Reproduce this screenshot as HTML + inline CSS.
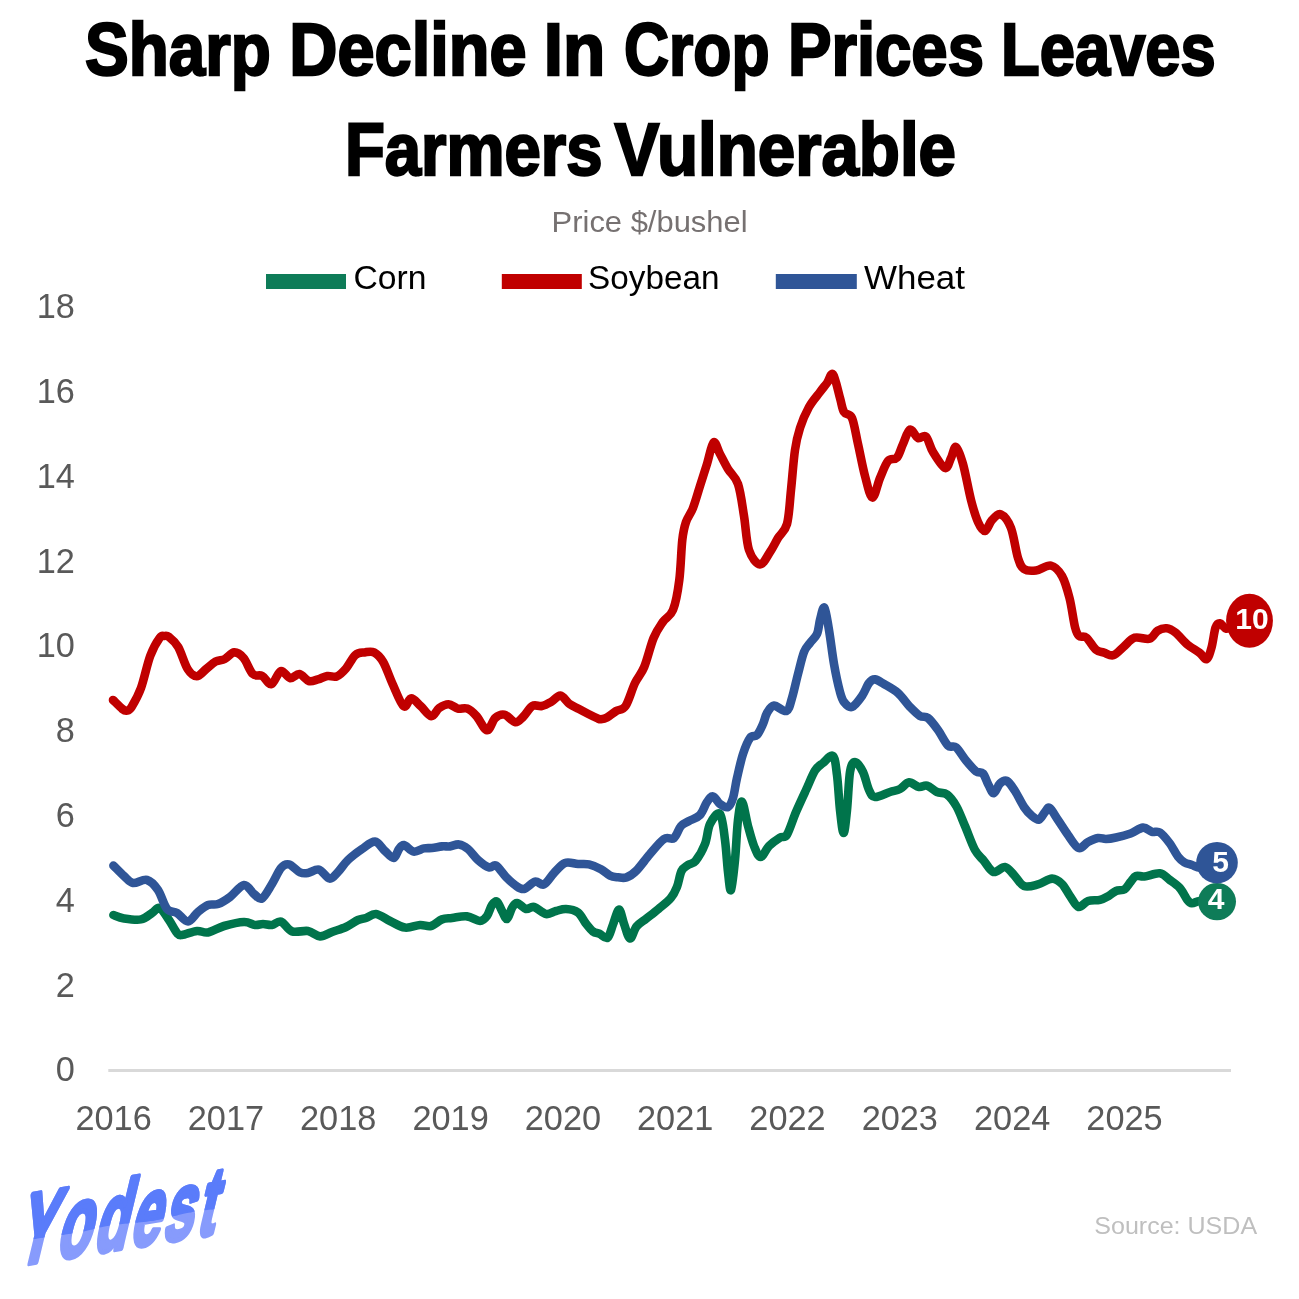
<!DOCTYPE html>
<html lang="en">
<head>
<meta charset="utf-8">
<title>Sharp Decline In Crop Prices Leaves Farmers Vulnerable</title>
<style>
html,body{margin:0;padding:0;background:#fff;}
body{width:1299px;height:1299px;overflow:hidden;font-family:"Liberation Sans",sans-serif;}
svg{display:block;}
text{font-family:"Liberation Sans",sans-serif;}
.title{font-weight:bold;font-size:75px;fill:#000;stroke:#000;stroke-width:2.4px;stroke-linejoin:miter;stroke-miterlimit:2.5;}
.axis text{font-size:34.3px;fill:#595959;}
.legend text{font-size:32.5px;fill:#000;}
.line{fill:none;stroke-width:8.6;stroke-linecap:round;stroke-linejoin:round;}
.badge{font-weight:bold;font-size:30px;fill:#fff;text-anchor:middle;}
</style>
</head>
<body>
<svg width="1299" height="1299" viewBox="0 0 1299 1299">
<rect width="1299" height="1299" fill="#ffffff"/>

<!-- Title -->
<g class="title">
<text transform="translate(84.99,74.5) scale(0.8741,1)">Sharp</text>
<text transform="translate(289.37,74.5) scale(0.8891,1)">Decline</text>
<text transform="translate(543.70,74.5) scale(0.9226,1)">In</text>
<text transform="translate(624.04,74.5) scale(0.8314,1)">Crop</text>
<text transform="translate(787.95,74.5) scale(0.8707,1)">Prices</text>
<text transform="translate(1001.06,74.5) scale(0.8441,1)">Leaves</text>
<text transform="translate(344.94,174.6) scale(0.8701,1)">Farmers</text>
<text transform="translate(614.56,174.6) scale(0.8970,1)">Vulnerable</text>
</g>

<!-- Subtitle -->
<text x="551.6" y="232" font-size="29.5" fill="#767171" textLength="196" lengthAdjust="spacingAndGlyphs">Price $/bushel</text>

<!-- Legend -->
<g class="legend">
<rect x="266" y="274" width="80" height="15" fill="#0e7c58"/>
<text x="353.5" y="288.7" textLength="73" lengthAdjust="spacingAndGlyphs">Corn</text>
<rect x="501.8" y="274" width="80" height="15" fill="#c00000"/>
<text x="588" y="288.7" textLength="131.5" lengthAdjust="spacingAndGlyphs">Soybean</text>
<rect x="775.8" y="274" width="81" height="15" fill="#2f5597"/>
<text x="864" y="288.7" textLength="101" lengthAdjust="spacingAndGlyphs">Wheat</text>
</g>

<!-- Axes -->
<line x1="108.3" y1="1070.4" x2="1231" y2="1070.4" stroke="#d9d9d9" stroke-width="3"/>
<g class="axis">
<text x="74.8" y="1081.3" text-anchor="end">0</text>
<text x="74.8" y="996.6" text-anchor="end">2</text>
<text x="74.8" y="911.8" text-anchor="end">4</text>
<text x="74.8" y="827.0" text-anchor="end">6</text>
<text x="74.8" y="742.1" text-anchor="end">8</text>
<text x="74.8" y="657.4" text-anchor="end">10</text>
<text x="74.8" y="572.6" text-anchor="end">12</text>
<text x="74.8" y="487.8" text-anchor="end">14</text>
<text x="74.8" y="403.0" text-anchor="end">16</text>
<text x="74.8" y="318.2" text-anchor="end">18</text>
<text x="113.6" y="1130" text-anchor="middle">2016</text>
<text x="225.9" y="1130" text-anchor="middle">2017</text>
<text x="338.2" y="1130" text-anchor="middle">2018</text>
<text x="450.6" y="1130" text-anchor="middle">2019</text>
<text x="562.9" y="1130" text-anchor="middle">2020</text>
<text x="675.2" y="1130" text-anchor="middle">2021</text>
<text x="787.5" y="1130" text-anchor="middle">2022</text>
<text x="899.8" y="1130" text-anchor="middle">2023</text>
<text x="1012.2" y="1130" text-anchor="middle">2024</text>
<text x="1124.5" y="1130" text-anchor="middle">2025</text>
</g>

<!-- Series -->
<path class="line" stroke="#00744b" d="M113.4 915.0C115.2 915.6 119.4 917.7 124.0 918.4C128.6 919.1 136.3 920.3 141.0 919.4C145.7 918.5 148.9 914.9 152.0 913.0C155.1 911.1 156.8 906.8 159.6 908.0C162.4 909.2 166.1 915.8 169.0 920.0C171.9 924.2 174.8 930.5 177.0 933.0C179.2 935.5 178.7 935.3 182.0 935.0C185.3 934.7 192.7 931.4 197.0 931.0C201.3 930.6 203.5 933.2 208.0 932.4C212.5 931.6 218.0 927.7 224.0 926.0C230.0 924.3 238.8 922.2 244.0 922.0C249.2 921.8 251.8 924.7 255.0 925.0C258.2 925.3 260.2 924.0 263.0 924.0C265.8 924.0 269.0 925.4 272.0 925.0C275.0 924.6 277.7 920.5 281.0 921.6C284.3 922.7 287.5 929.8 292.0 931.4C296.5 933.0 303.3 930.2 308.0 931.0C312.7 931.8 316.0 936.2 320.0 936.4C324.0 936.6 327.7 933.6 332.0 932.0C336.3 930.4 341.7 929.0 346.0 927.0C350.3 925.0 354.7 921.5 358.0 920.0C361.3 918.5 363.0 919.0 366.0 918.0C369.0 917.0 372.0 913.5 376.0 914.0C380.0 914.5 385.2 918.7 390.0 921.0C394.8 923.3 400.0 926.9 405.0 927.6C410.0 928.3 415.7 925.3 420.0 925.0C424.3 924.7 427.3 926.9 431.0 926.0C434.7 925.1 438.5 920.7 442.0 919.4C445.5 918.1 447.8 918.5 452.0 918.0C456.2 917.5 462.3 915.9 467.0 916.4C471.7 916.9 476.7 921.1 480.0 921.0C483.3 920.9 485.0 918.7 487.0 916.0C489.0 913.3 490.3 907.4 492.0 905.0C493.7 902.6 495.3 900.6 497.0 901.6C498.7 902.6 500.3 908.1 502.0 911.0C503.7 913.9 505.3 919.5 507.0 919.0C508.7 918.5 510.3 910.7 512.0 908.0C513.7 905.3 514.7 902.8 517.0 903.0C519.3 903.2 523.2 908.3 526.0 909.0C528.8 909.7 530.7 906.2 534.0 907.0C537.3 907.8 542.3 913.3 546.0 914.0C549.7 914.7 552.7 911.8 556.0 911.0C559.3 910.2 562.3 908.8 566.0 909.0C569.7 909.2 574.8 910.2 578.0 912.5C581.2 914.8 583.0 919.8 585.5 923.0C588.0 926.2 590.7 929.7 593.0 931.5C595.3 933.3 597.1 932.8 599.5 933.8C601.9 934.8 605.2 939.3 607.5 937.8C609.8 936.2 611.1 929.2 613.0 924.5C614.9 919.8 617.2 909.7 619.0 909.6C620.8 909.5 622.2 918.9 624.0 923.7C625.8 928.5 627.9 938.0 630.0 938.5C632.1 939.0 633.8 929.8 636.5 926.5C639.2 923.2 642.3 921.7 646.0 918.8C649.7 915.9 654.4 912.5 658.5 909.0C662.6 905.5 667.7 901.7 670.8 898.0C673.9 894.3 675.2 891.3 677.0 886.8C678.8 882.3 679.7 874.6 681.5 871.0C683.3 867.4 685.7 866.7 688.0 865.0C690.3 863.3 692.7 864.5 695.5 861.0C698.3 857.5 702.6 850.2 705.0 844.0C707.4 837.8 707.5 829.0 710.0 824.0C712.5 819.0 717.5 811.3 720.0 814.0C722.5 816.7 723.7 830.3 725.0 840.0C726.3 849.7 727.0 863.7 728.0 872.0C729.0 880.3 729.8 892.0 731.0 890.0C732.2 888.0 733.8 871.7 735.0 860.0C736.2 848.3 736.8 829.7 738.0 820.0C739.2 810.3 740.3 800.6 742.0 801.6C743.7 802.6 746.0 818.6 748.0 826.0C750.0 833.4 751.9 840.8 754.0 846.0C756.1 851.2 758.1 857.0 760.6 857.0C763.1 857.0 765.8 849.2 769.0 846.0C772.2 842.8 777.0 839.5 780.0 837.6C783.0 835.7 784.3 838.9 787.0 834.6C789.7 830.3 792.8 819.4 796.0 812.0C799.2 804.6 802.8 796.9 806.0 790.0C809.2 783.1 812.2 775.0 815.0 770.5C817.8 766.0 820.0 765.4 823.0 763.0C826.0 760.6 830.7 754.0 833.0 756.0C835.3 758.0 835.8 766.0 837.0 775.0C838.2 784.0 838.9 800.3 840.0 810.0C841.1 819.7 842.4 833.0 843.6 833.0C844.8 833.0 845.9 820.2 847.0 810.0C848.1 799.8 848.7 780.0 850.0 772.0C851.3 764.0 852.8 762.0 855.0 762.0C857.2 762.0 860.7 767.3 863.0 772.0C865.3 776.7 867.0 785.8 869.0 790.0C871.0 794.2 871.5 796.7 875.0 797.0C878.5 797.3 885.8 793.3 890.0 792.0C894.2 790.7 896.8 790.6 900.0 789.0C903.2 787.4 905.8 782.7 909.0 782.4C912.2 782.1 916.0 786.5 919.0 787.0C922.0 787.5 924.0 784.8 927.0 785.6C930.0 786.4 933.7 790.5 937.0 792.0C940.3 793.5 943.8 792.1 947.0 794.5C950.2 796.9 953.5 801.2 956.5 806.5C959.5 811.8 961.9 818.8 965.0 826.0C968.1 833.2 971.8 844.2 975.0 850.0C978.2 855.8 980.9 857.3 984.0 861.0C987.1 864.7 990.1 871.0 993.6 872.0C997.1 873.0 1001.6 866.5 1005.0 867.0C1008.4 867.5 1010.8 871.8 1014.0 875.0C1017.2 878.2 1020.0 884.4 1024.0 886.0C1028.0 887.6 1033.3 885.6 1038.0 884.4C1042.7 883.2 1048.0 878.7 1052.0 878.6C1056.0 878.5 1059.0 881.1 1062.0 884.0C1065.0 886.9 1067.2 892.2 1070.0 896.0C1072.8 899.8 1075.6 906.2 1078.6 907.0C1081.6 907.8 1084.4 902.2 1088.0 901.0C1091.6 899.8 1096.5 900.7 1100.0 899.8C1103.5 898.9 1106.3 897.2 1109.0 895.7C1111.7 894.2 1113.4 892.1 1116.0 891.0C1118.6 889.9 1122.1 890.8 1124.5 889.3C1126.9 887.8 1128.7 884.1 1130.6 881.9C1132.5 879.7 1133.7 876.8 1136.0 875.9C1138.3 875.0 1140.4 876.9 1144.4 876.5C1148.4 876.1 1155.6 872.8 1159.8 873.3C1164.0 873.8 1166.2 877.3 1169.5 879.8C1172.8 882.2 1176.8 884.7 1179.8 888.0C1182.8 891.3 1185.3 897.2 1187.3 899.8C1189.3 902.3 1189.9 903.1 1191.9 903.3C1194.0 903.5 1196.6 901.2 1199.6 901.0C1202.6 900.8 1208.3 901.8 1210.0 902.0"/>
<path class="line" stroke="#c00000" d="M113.0 700.0C114.6 701.5 120.1 707.2 122.4 709.0C124.7 710.8 125.5 710.8 127.0 710.5C128.5 710.2 129.3 710.8 131.6 707.0C133.9 703.2 137.9 696.5 141.0 688.0C144.1 679.5 147.1 664.3 150.2 656.0C153.3 647.7 157.2 641.3 159.6 638.0C162.0 634.7 162.8 636.2 164.4 636.0C166.0 635.8 166.7 635.2 169.0 637.0C171.3 638.8 175.1 641.7 178.2 647.0C181.3 652.3 184.5 664.1 187.6 669.0C190.7 673.9 193.7 676.2 196.8 676.2C199.9 676.2 203.1 671.4 206.2 669.0C209.3 666.6 212.5 663.3 215.6 661.6C218.7 659.9 221.7 660.5 224.8 659.0C227.9 657.5 231.1 652.6 234.2 652.4C237.3 652.2 240.5 654.4 243.6 658.0C246.7 661.6 249.7 671.0 252.8 674.0C255.9 677.0 259.1 674.3 262.2 676.0C265.3 677.7 268.3 685.0 271.4 684.2C274.5 683.4 277.7 672.0 280.8 671.0C283.9 670.0 287.1 677.7 290.2 678.2C293.3 678.7 296.3 673.5 299.4 674.0C302.5 674.5 305.7 680.1 308.8 681.0C311.9 681.9 314.9 680.2 318.0 679.4C321.1 678.6 324.3 676.5 327.4 676.0C330.5 675.5 333.7 677.6 336.8 676.4C339.9 675.1 342.9 672.1 346.0 668.5C349.1 664.9 352.3 657.7 355.4 655.0C358.5 652.3 361.5 652.8 364.6 652.4C367.7 652.0 370.9 650.8 374.0 652.4C377.1 654.0 380.1 656.7 383.2 662.0C386.3 667.3 389.2 676.6 392.6 684.0C396.0 691.4 400.5 703.8 403.6 706.2C406.7 708.6 408.4 698.4 411.2 698.4C414.0 698.4 417.2 703.0 420.6 706.0C424.0 709.0 428.2 715.9 431.3 716.2C434.4 716.5 436.3 710.0 439.2 708.0C442.1 706.0 445.5 704.1 448.6 704.2C451.7 704.3 454.7 707.9 457.8 708.6C460.9 709.3 464.1 707.4 467.2 708.6C470.3 709.8 473.1 712.4 476.4 716.0C479.7 719.6 483.9 729.9 487.0 730.2C490.1 730.5 492.3 720.6 495.2 718.0C498.1 715.4 501.0 713.9 504.4 714.6C507.8 715.3 512.2 721.8 515.3 722.2C518.4 722.6 520.1 719.7 523.0 717.0C525.9 714.3 529.3 707.8 532.4 706.0C535.5 704.2 538.7 706.7 541.8 706.0C544.9 705.3 547.9 703.7 551.0 702.0C554.1 700.3 557.3 695.3 560.4 695.6C563.5 695.9 566.5 701.8 569.6 704.0C572.7 706.2 575.9 707.3 579.0 709.0C582.1 710.7 585.3 712.4 588.4 714.0C591.5 715.6 595.5 717.5 597.6 718.4C599.7 719.3 599.4 719.3 601.0 719.2C602.6 719.1 604.5 719.0 607.0 717.6C609.5 716.2 613.1 712.9 616.2 711.0C619.3 709.1 622.5 710.7 625.6 706.0C628.7 701.3 631.9 689.5 635.0 683.0C638.1 676.5 641.1 674.5 644.2 667.0C647.3 659.5 650.5 645.5 653.6 638.0C656.7 630.5 659.6 626.7 662.8 622.0C666.0 617.3 670.2 617.0 673.0 610.0C675.8 603.0 677.8 591.7 679.3 580.0C680.8 568.3 681.2 549.7 682.3 540.0C683.4 530.3 684.2 527.3 686.0 522.0C687.8 516.7 690.7 514.0 693.0 508.0C695.3 502.0 697.7 493.3 700.0 486.0C702.3 478.7 704.7 471.3 707.0 464.0C709.3 456.7 711.4 444.1 713.6 442.4C715.8 440.7 717.6 449.6 720.0 454.0C722.4 458.4 725.0 464.0 728.0 469.0C731.0 474.0 735.3 476.2 738.0 484.0C740.7 491.8 742.2 505.0 744.0 516.0C745.8 527.0 746.3 541.9 749.0 550.0C751.7 558.1 756.5 564.1 760.0 564.4C763.5 564.7 767.0 556.4 770.0 552.0C773.0 547.6 775.2 542.7 778.0 538.0C780.8 533.3 784.8 532.0 787.0 524.0C789.2 516.0 789.7 502.3 791.0 490.0C792.3 477.7 793.5 460.3 795.0 450.0C796.5 439.7 797.7 435.2 800.0 428.0C802.3 420.8 805.7 413.0 809.0 407.0C812.3 401.0 817.0 396.0 820.0 392.0C823.0 388.0 824.8 385.9 827.0 383.0C829.2 380.1 830.8 371.9 833.0 374.4C835.2 376.9 838.2 391.7 840.0 398.0C841.8 404.3 842.0 408.7 844.0 412.0C846.0 415.3 849.7 412.7 852.0 418.0C854.3 423.3 855.8 434.3 858.0 444.0C860.2 453.7 862.6 467.1 865.0 476.0C867.4 484.9 869.9 497.3 872.4 497.6C874.9 497.9 877.4 484.1 880.0 478.0C882.6 471.9 885.2 464.4 888.0 461.0C890.8 457.6 894.5 460.4 897.0 457.6C899.5 454.8 900.8 448.7 903.0 444.0C905.2 439.3 907.5 430.6 910.0 429.6C912.5 428.6 915.3 436.8 918.0 438.0C920.7 439.2 923.5 434.3 926.0 436.6C928.5 438.9 929.8 446.8 933.0 452.0C936.2 457.2 942.0 467.0 945.0 468.0C948.0 469.0 949.2 461.5 951.0 458.0C952.8 454.5 954.0 446.0 956.0 447.0C958.0 448.0 960.5 455.2 963.0 464.0C965.5 472.8 968.5 490.3 971.0 500.0C973.5 509.7 975.7 516.8 978.0 522.0C980.3 527.2 982.7 531.3 985.0 531.0C987.3 530.7 989.3 522.8 992.0 520.0C994.7 517.2 997.8 513.1 1001.0 514.4C1004.2 515.7 1008.2 520.7 1011.0 528.0C1013.8 535.3 1015.8 551.2 1018.0 558.0C1020.2 564.8 1021.0 566.9 1024.0 569.0C1027.0 571.1 1031.5 571.0 1036.0 570.4C1040.5 569.8 1046.7 564.7 1051.0 565.6C1055.3 566.5 1058.9 570.6 1062.0 576.0C1065.1 581.4 1067.3 589.5 1069.5 598.0C1071.7 606.5 1073.4 620.7 1075.0 627.0C1076.6 633.3 1077.1 634.2 1079.0 636.0C1080.9 637.8 1083.7 635.4 1086.5 637.7C1089.3 640.0 1093.1 647.3 1096.0 649.8C1098.9 652.3 1101.1 651.7 1104.0 652.6C1106.9 653.5 1110.1 656.2 1113.4 655.2C1116.7 654.2 1120.2 649.6 1123.7 646.7C1127.2 643.8 1130.4 639.0 1134.7 637.7C1139.0 636.4 1145.9 639.9 1149.7 638.7C1153.5 637.5 1154.8 632.4 1157.6 630.7C1160.4 629.0 1163.6 628.0 1166.6 628.3C1169.6 628.6 1172.1 630.0 1175.6 632.7C1179.1 635.4 1183.6 641.4 1187.6 644.7C1191.6 648.0 1196.3 650.3 1199.5 652.7C1202.7 655.1 1204.5 660.0 1206.5 659.2C1208.5 658.4 1210.0 653.0 1211.5 647.7C1213.0 642.5 1214.1 631.8 1215.5 627.7C1216.9 623.6 1218.2 623.1 1220.0 623.3C1221.8 623.5 1223.9 628.2 1226.4 628.7C1228.9 629.2 1233.6 626.5 1235.0 626.0"/>
<path class="line" stroke="#2f5597" d="M113.4 865.6C115.2 867.3 120.7 873.1 124.0 876.0C127.3 878.9 129.2 882.3 133.0 883.0C136.8 883.7 142.8 878.8 147.0 880.0C151.2 881.2 154.7 885.2 158.0 890.0C161.3 894.8 163.8 905.2 167.0 909.0C170.2 912.8 173.5 910.9 177.0 913.0C180.5 915.1 184.5 921.6 188.0 921.4C191.5 921.2 194.7 914.7 198.0 912.0C201.3 909.3 204.7 906.3 208.0 905.0C211.3 903.7 214.3 905.3 218.0 904.0C221.7 902.7 225.7 900.2 230.0 897.0C234.3 893.8 240.0 885.5 244.0 885.0C248.0 884.5 251.0 891.8 254.0 894.0C257.0 896.2 259.0 900.1 262.0 898.4C265.0 896.7 268.8 889.1 272.0 884.0C275.2 878.9 278.2 871.3 281.0 868.0C283.8 864.7 285.8 863.7 289.0 864.4C292.2 865.1 296.8 871.0 300.0 872.4C303.2 873.8 304.8 873.5 308.0 873.0C311.2 872.5 315.4 868.7 319.0 869.6C322.6 870.5 326.4 878.2 329.6 878.6C332.8 879.0 334.9 875.1 338.0 872.0C341.1 868.9 344.0 863.8 348.0 860.0C352.0 856.2 357.5 852.1 362.0 849.0C366.5 845.9 371.2 841.3 375.0 841.6C378.8 841.9 381.9 848.3 385.0 851.0C388.1 853.7 391.3 858.3 393.6 858.0C395.9 857.7 397.3 851.2 399.0 849.0C400.7 846.8 401.6 844.6 404.0 845.0C406.4 845.4 410.3 851.0 413.6 851.6C416.9 852.2 420.9 849.0 424.0 848.4C427.1 847.8 429.0 848.3 432.0 848.0C435.0 847.7 439.0 846.7 442.0 846.4C445.0 846.1 447.2 846.7 450.0 846.4C452.8 846.1 456.0 844.0 459.0 844.4C462.0 844.8 464.8 846.4 468.0 849.0C471.2 851.6 474.5 856.9 478.0 860.0C481.5 863.1 486.0 866.5 489.0 867.4C492.0 868.3 493.2 864.0 496.0 865.6C498.8 867.2 502.8 873.8 506.0 877.0C509.2 880.2 512.0 883.0 515.0 885.0C518.0 887.0 520.7 889.6 524.0 889.0C527.3 888.4 531.7 882.4 535.0 881.6C538.3 880.8 540.8 885.8 544.0 884.4C547.2 883.0 550.5 876.6 554.0 873.0C557.5 869.4 561.0 864.5 565.0 863.0C569.0 861.5 574.0 863.8 578.0 864.0C582.0 864.2 585.2 863.5 589.0 864.4C592.8 865.3 597.5 867.3 601.0 869.2C604.5 871.1 607.2 874.2 610.0 875.6C612.8 877.0 615.2 877.0 618.0 877.3C620.8 877.6 623.4 878.5 626.5 877.4C629.6 876.3 632.5 874.5 636.4 870.6C640.3 866.7 645.4 859.3 650.0 854.0C654.6 848.7 660.0 841.7 664.0 839.0C668.0 836.3 671.2 840.2 674.0 838.0C676.8 835.8 678.5 828.8 681.0 826.0C683.5 823.2 685.8 822.8 689.0 821.0C692.2 819.2 697.0 818.2 700.0 815.0C703.0 811.8 704.8 805.1 707.0 802.0C709.2 798.9 710.8 796.1 713.0 796.4C715.2 796.7 717.5 802.2 720.0 804.0C722.5 805.8 725.8 808.0 728.0 807.0C730.2 806.0 731.5 802.8 733.0 798.0C734.5 793.2 735.3 785.3 737.0 778.0C738.7 770.7 740.8 760.7 743.0 754.0C745.2 747.3 747.7 741.2 750.0 738.0C752.3 734.8 754.8 737.3 757.0 735.0C759.2 732.7 761.3 727.7 763.0 724.0C764.7 720.3 765.2 716.1 767.0 713.0C768.8 709.9 770.8 705.9 774.0 705.6C777.2 705.3 783.4 712.3 786.4 711.0C789.4 709.7 790.1 704.2 792.0 698.0C793.9 691.8 796.0 681.7 798.0 674.0C800.0 666.3 802.0 657.2 804.0 652.0C806.0 646.8 807.8 646.0 810.0 643.0C812.2 640.0 815.3 637.8 817.0 634.0C818.7 630.2 818.8 624.4 820.0 620.0C821.2 615.6 822.9 605.9 824.4 607.6C825.9 609.3 827.4 620.6 829.0 630.0C830.6 639.4 832.2 653.7 834.0 664.0C835.8 674.3 838.3 685.7 840.0 692.0C841.7 698.3 842.0 699.5 844.0 702.0C846.0 704.5 849.0 708.0 852.0 707.0C855.0 706.0 859.2 700.0 862.0 696.0C864.8 692.0 866.8 685.8 869.0 683.0C871.2 680.2 872.5 679.2 875.0 679.4C877.5 679.6 880.2 681.7 884.0 684.0C887.8 686.3 893.7 689.2 898.0 693.0C902.3 696.8 906.3 703.2 910.0 707.0C913.7 710.8 917.0 714.2 920.0 716.0C923.0 717.8 925.0 715.7 928.0 718.0C931.0 720.3 934.7 725.4 938.0 730.0C941.3 734.6 945.0 742.7 948.0 745.6C951.0 748.5 953.0 744.8 956.0 747.3C959.0 749.8 962.7 756.5 966.0 760.5C969.3 764.5 973.2 769.1 976.0 771.3C978.8 773.5 980.9 771.2 983.0 773.5C985.1 775.8 986.7 781.7 988.5 785.0C990.3 788.3 991.9 793.5 993.8 793.3C995.7 793.0 997.8 785.5 1000.0 783.5C1002.2 781.5 1004.5 779.8 1007.0 781.0C1009.5 782.2 1012.2 786.7 1015.0 791.0C1017.8 795.3 1021.2 802.8 1024.0 807.0C1026.8 811.2 1029.5 813.9 1032.0 816.0C1034.5 818.1 1036.8 820.3 1039.0 819.6C1041.2 818.9 1043.2 813.9 1045.0 812.0C1046.8 810.1 1047.4 806.7 1049.6 808.0C1051.8 809.3 1054.9 815.5 1058.0 820.0C1061.1 824.5 1064.6 830.3 1068.0 835.0C1071.4 839.7 1075.3 846.8 1078.6 848.0C1081.9 849.2 1084.8 843.7 1088.0 842.0C1091.2 840.3 1095.0 838.5 1098.0 838.0C1101.0 837.5 1103.0 839.1 1106.0 839.0C1109.0 838.9 1111.9 838.4 1116.0 837.5C1120.1 836.6 1126.1 835.1 1130.6 833.5C1135.1 831.9 1139.4 827.9 1143.0 827.6C1146.6 827.3 1149.2 831.0 1152.0 831.8C1154.8 832.6 1157.1 830.6 1160.0 832.5C1162.9 834.4 1166.5 839.0 1169.5 843.0C1172.5 847.0 1175.5 853.4 1178.0 856.6C1180.5 859.8 1182.0 860.9 1184.3 862.3C1186.6 863.7 1189.4 864.1 1192.0 865.0C1194.6 865.9 1197.0 867.4 1200.0 867.6C1203.0 867.8 1208.3 866.3 1210.0 866.0"/>

<!-- End badges -->
<ellipse cx="1217" cy="901.6" rx="19" ry="18.7" fill="#0e7c58"/>
<text class="badge" x="1216.2" y="909.3">4</text>
<ellipse cx="1217" cy="862.7" rx="20.8" ry="20.7" fill="#2f5597"/>
<text class="badge" x="1220.6" y="872">5</text>
<ellipse cx="1249.5" cy="620.8" rx="23.4" ry="27" fill="#c00000"/>
<text class="badge" x="1251.9" y="629.4">10</text>

<!-- Logo -->
<defs>
<clipPath id="logoTop"><path d="M-20 -120 H320 V-23 C290 -20 270 -27 240 -24 C210 -21 190 -28 160 -24 C130 -20 110 -27 80 -24 C50 -21 30 -27 -20 -20 Z"/></clipPath>
</defs>
<g transform="translate(14,1266) skewY(-9.2)" font-size="100" font-weight="bold" stroke-width="5" stroke-linejoin="round" letter-spacing="5">
<text x="0" y="0" fill="#879bfc" stroke="#879bfc" transform="skewX(-14) scale(0.57,1)"><tspan font-size="100">Y</tspan><tspan font-size="99">o</tspan><tspan font-size="96">d</tspan><tspan font-size="95">e</tspan><tspan font-size="94">s</tspan><tspan font-size="94" dx="2">t</tspan></text>
<g clip-path="url(#logoTop)">
<text x="0" y="0" fill="#5a7cfa" stroke="#5a7cfa" transform="skewX(-14) scale(0.57,1)"><tspan font-size="100">Y</tspan><tspan font-size="99">o</tspan><tspan font-size="96">d</tspan><tspan font-size="95">e</tspan><tspan font-size="94">s</tspan><tspan font-size="94" dx="2">t</tspan></text>
</g>
</g>

<!-- Source -->
<text x="1094.3" y="1233.5" font-size="24.8" fill="#bfbfbf" textLength="162.8" lengthAdjust="spacingAndGlyphs">Source: USDA</text>
</svg>
</body>
</html>
